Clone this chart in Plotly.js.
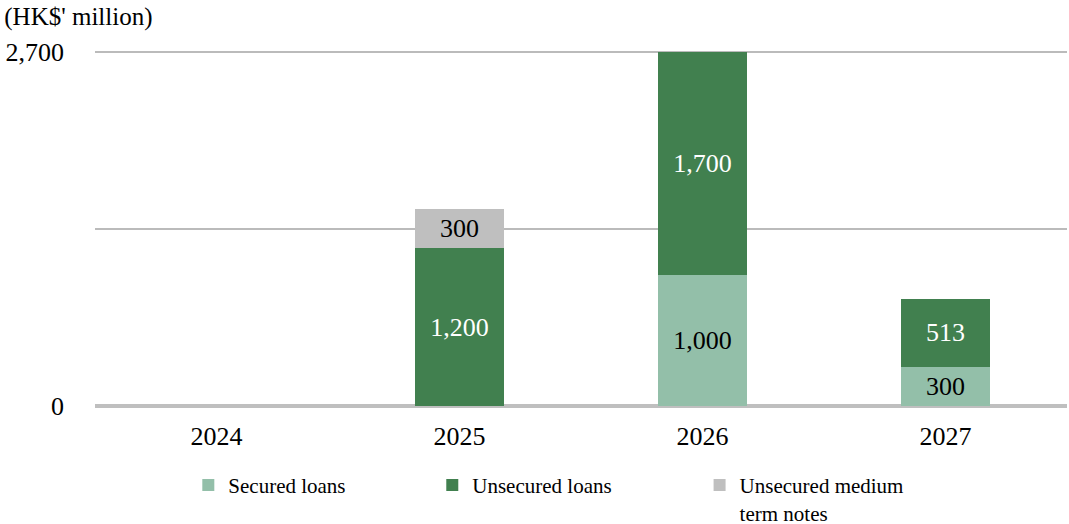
<!DOCTYPE html>
<html>
<head>
<meta charset="utf-8">
<script src="https://cdn.plot.ly/plotly-3.0.1.min.js"></script>
<style>html,body{margin:0;padding:0;background:#fff;}#chart{width:1069px;height:524px;}</style>
</head>
<body>
<div id="chart"></div>
<script>
const years = ['2024', '2025', '2026', '2027'];
const securedLoans = [null, null, 1000, 300];
const unsecuredLoans = [null, 1200, 1700, 513];
const mediumTermNotes = [null, 300, null, null];
const seriesNames = ['Secured loans', 'Unsecured loans', 'Unsecured medium<br>term notes'];
const yTickVals = [0, 1350, 2700];
const yTickText = ['0', '', '2,700'];

const FONT = 'Liberation Serif, Times New Roman, serif';
function barTrace(vals, name, color, txtColor, legend) {
  return {
    type: 'bar', x: years, y: vals, name: name, legend: legend,
    marker: {color: color},
    texttemplate: '%{y:,}', textposition: 'inside', insidetextanchor: 'middle',
    textangle: 0, constraintext: 'none',
    textfont: {family: FONT, size: 26, color: txtColor},
    hoverinfo: 'skip'
  };
}
const data = [
  barTrace(securedLoans, seriesNames[0], '#93BFA9', '#000000', 'legend'),
  barTrace(unsecuredLoans, seriesNames[1], '#41804F', '#FFFFFF', 'legend2'),
  barTrace(mediumTermNotes, seriesNames[2], '#BFBFBF', '#000000', 'legend3')
];
const legendBase = {orientation: 'h', yanchor: 'top', xanchor: 'left', yref: 'container', y: 0.1127,
  font: {family: FONT, size: 21, color: '#000'}, bgcolor: 'rgba(0,0,0,0)', valign: 'top'};
const layout = {
  width: 1069, height: 524,
  margin: {l: 95, r: 2, t: 50, b: 118, autoexpand: false},
  paper_bgcolor: '#fff', plot_bgcolor: '#fff',
  barmode: 'stack', bargap: 0.63,
  font: {family: FONT, size: 26, color: '#000'},
  title: {text: "(HK$' million)", x: 0.004, xanchor: 'left', xref: 'container',
          y: 0.986, yanchor: 'top', yref: 'container', font: {family: FONT, size: 25, color: '#000'}},
  xaxis: {type: 'category', range: [-0.5, 3.5], showline: false, showgrid: false, ticks: '',
          tickfont: {family: FONT, size: 26, color: '#000'}, ticklabelstandoff: 12, fixedrange: true},
  yaxis: {range: [0, 2712], tickvals: yTickVals, ticktext: yTickText, showgrid: true,
          gridcolor: '#BBBBBB', gridwidth: 2, zeroline: true, zerolinecolor: '#BFBFBF', zerolinewidth: 4,
          showline: false, ticks: '', ticklabelstandoff: 30,
          tickfont: {family: FONT, size: 26, color: '#000'}, fixedrange: true},
  showlegend: true,
  legend: Object.assign({}, legendBase, {x: 0.096}),
  legend2: Object.assign({}, legendBase, {x: 0.347}),
  legend3: Object.assign({}, legendBase, {x: 0.622})
};
Plotly.newPlot('chart', data, layout, {displayModeBar: false, staticPlot: true});
</script>
</body>
</html>
